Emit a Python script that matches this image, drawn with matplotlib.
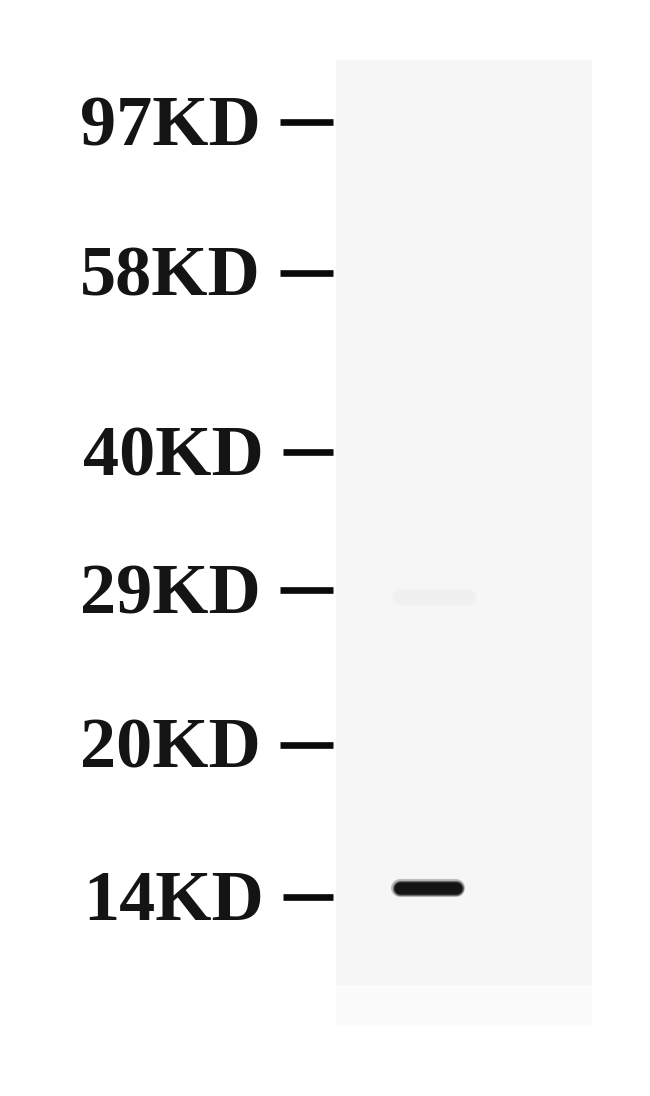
import matplotlib
matplotlib.use("Agg")
import matplotlib.pyplot as plt
from matplotlib.patches import Rectangle

# Data: marker labels and their migration positions (pixels from top)
marker_labels = ["97KD", "58KD", "40KD", "29KD", "20KD", "14KD"]
marker_y = [122, 273, 452, 590, 745, 897]
marker_text_right = [261, 261, 264, 261, 261, 264]

# Detected bands in the sample lane: position and intensity (0..1)
band_y = [597, 888]
band_intensity = [0.025, 0.92]
band_x0 = [400, 400]
band_x1 = [468, 456]

W, H = 650, 1096
fig = plt.figure(figsize=(W / 100, H / 100), dpi=100)
ax = fig.add_axes([0, 0, 1, 1])
ax.set_xlim(0, W)
ax.set_ylim(H, 0)
ax.axis("off")
fig.patch.set_facecolor("white")

# membrane background
ax.add_patch(Rectangle((336, 985), 256, 40, color="#fbfbfb", lw=0, zorder=0))
ax.add_patch(Rectangle((336, 60), 256, 925, color="#f6f6f6", lw=0, zorder=1))

for lab, y, xr in zip(marker_labels, marker_y, marker_text_right):
    ax.text(xr, y + 23, lab, ha="right", va="baseline", fontsize=52,
            fontfamily="Liberation Serif", fontweight="bold", color="#141414")
    ax.plot([xr + 19, 333], [y, y], color="#0a0a0a", lw=4.8,
            solid_capstyle="butt", zorder=3)

for y, inten, x0, x1 in zip(band_y, band_intensity, band_x0, band_x1):
    g = 0.965 * (1 - inten)
    col = (g, g, g)
    ax.plot([x0, x1], [y, y], color=col, lw=13, alpha=0.25,
            solid_capstyle="round", zorder=4)
    ax.plot([x0, x1], [y, y], color=col, lw=11, alpha=0.5,
            solid_capstyle="round", zorder=5)
    ax.plot([x0, x1], [y, y], color=col, lw=9,
            solid_capstyle="round", zorder=6)

fig.savefig("out.png", dpi=100, facecolor="white")
